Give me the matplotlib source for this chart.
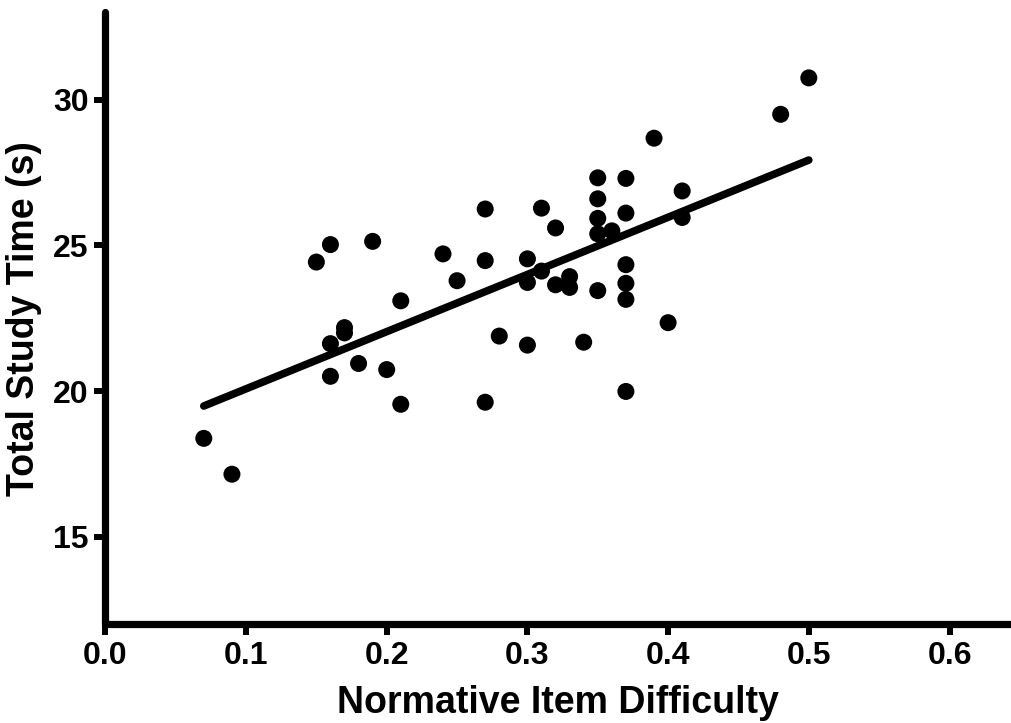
import matplotlib
matplotlib.use("Agg")
import matplotlib.pyplot as plt
import numpy as np

difficulty = [0.07, 0.09, 0.15, 0.16, 0.16, 0.16, 0.17, 0.17, 0.18, 0.19,
              0.20, 0.21, 0.21, 0.24, 0.25, 0.27, 0.27, 0.27, 0.28, 0.30,
              0.30, 0.30, 0.31, 0.31, 0.32, 0.32, 0.33, 0.33, 0.34, 0.35,
              0.35, 0.35, 0.35, 0.35, 0.36, 0.37, 0.37, 0.37, 0.37, 0.37,
              0.37, 0.39, 0.40, 0.41, 0.41, 0.48, 0.50]
study_time = [18.38, 17.15, 24.43, 25.03, 21.63, 20.51, 22.18, 22.0, 20.95, 25.14,
              20.74, 23.1, 19.55, 24.71, 23.79, 26.25, 24.48, 19.62, 21.89, 24.54,
              23.73, 21.58, 26.28, 24.12, 25.6, 23.65, 23.93, 23.56, 21.68, 27.32,
              26.6, 25.93, 25.4, 23.45, 25.5, 27.3, 26.11, 24.34, 23.7, 23.15,
              19.99, 28.68, 22.35, 26.87, 25.96, 29.5, 30.75]

fit_x = [0.07, 0.50]
fit_y = [19.49, 27.93]

x_ticks = [0.0, 0.1, 0.2, 0.3, 0.4, 0.5, 0.6]
x_tick_labels = ["0.0", "0.1", "0.2", "0.3", "0.4", "0.5", "0.6"]
y_ticks = [15, 20, 25, 30]
y_tick_labels = ["15", "20", "25", "30"]

plt.rcParams['font.family'] = ['Liberation Sans', 'DejaVu Sans']
plt.rcParams['font.weight'] = 'bold'

fig = plt.figure(figsize=(10.11, 7.23), dpi=100)
left = 105.3 / 1011
bottom = 1 - 624.3 / 723
top = 1 - 12.3 / 723
ax = fig.add_axes([left, bottom, 1.0 - left, top - bottom])

ax.scatter(difficulty, study_time, s=150, color='black', edgecolors='none', zorder=3)
ax.plot(fit_x, fit_y, color='black', lw=5.5, solid_capstyle='round', zorder=2)

ax.set_xlim(0, 0.6437)
ax.set_ylim(12, 33)
ax.set_xticks(x_ticks)
ax.set_xticklabels(x_tick_labels)
ax.set_yticks(y_ticks)
ax.set_yticklabels(y_tick_labels)

for side in ['top', 'right']:
    ax.spines[side].set_visible(False)
for side in ['left', 'bottom']:
    ax.spines[side].set_linewidth(5.2)
    ax.spines[side].set_capstyle('round')

ax.tick_params(axis='both', length=8, width=4.3, labelsize=23, pad=4, direction='out')
for lab in ax.get_xticklabels() + ax.get_yticklabels():
    lab.set_fontweight('bold')

ax.set_xlabel("Normative Item Difficulty", fontsize=27, fontweight='bold', labelpad=10)
ax.set_ylabel("Total Study Time (s)", fontsize=27, fontweight='bold', labelpad=8)

fig.savefig("out.png", dpi=100)
